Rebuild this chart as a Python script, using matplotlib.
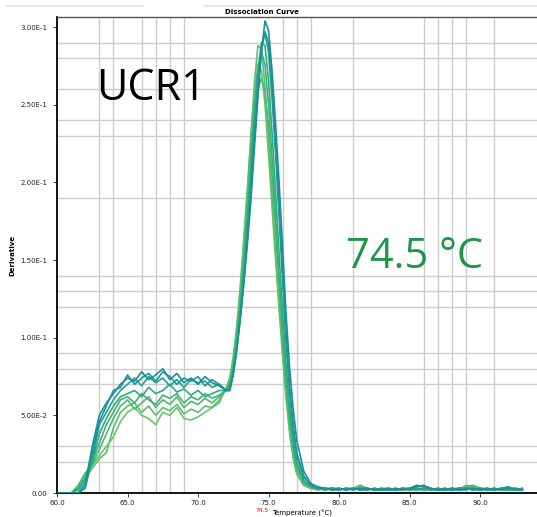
import numpy as np
import matplotlib
matplotlib.use("Agg")
import matplotlib.pyplot as plt
from matplotlib.lines import Line2D

# temperaturas de lectura (°C): 0.5 en los extremos, 0.25 cerca del pico
temp = np.concatenate([np.arange(60.0, 72.01, 0.5),
                       np.arange(72.25, 77.01, 0.25),
                       np.arange(77.5, 93.01, 0.5)])

# derivada (x 1e-3) de cada pocillo, de verde a turquesa
g1 = [0, 0, 0, 5, 13, 18, 24, 30, 36, 46, 52, 55, 50, 48, 44, 52, 50, 55, 48, 47, 49, 52, 55, 58, 68,
      74, 88, 108, 134, 164, 196, 228, 258, 276, 272, 250, 218, 184, 150, 118, 88, 60, 38, 22, 12,
      5, 3, 2, 3, 2, 3, 2, 3, 3, 2, 3, 2, 2, 3, 2, 3, 2, 2, 3, 2, 2, 3, 2, 5, 4, 2, 3, 2, 3, 2, 2, 2]
g2 = [0, 0, 0, 3, 9, 16, 22, 26, 42, 52, 56, 58, 52, 56, 50, 55, 53, 57, 51, 54, 52, 56, 55, 60, 67,
      72, 86, 105, 130, 160, 194, 230, 264, 288, 286, 262, 228, 192, 156, 122, 92, 64, 41, 24, 14,
      5, 3, 3, 2, 3, 2, 3, 2, 4, 3, 2, 3, 3, 2, 3, 2, 2, 3, 2, 2, 3, 2, 3, 3, 4, 3, 3, 2, 2, 3, 2, 3]
g3 = [0, 0, 0, 4, 12, 18, 28, 38, 48, 56, 60, 54, 58, 62, 55, 60, 57, 62, 55, 59, 57, 61, 58, 62, 66,
      70, 82, 100, 124, 152, 184, 216, 242, 260, 267, 258, 236, 204, 170, 134, 100, 70, 46, 28, 16,
      6, 4, 2, 3, 2, 3, 2, 3, 5, 3, 2, 3, 2, 3, 2, 2, 3, 2, 2, 3, 2, 3, 3, 4, 5, 3, 2, 3, 2, 3, 2, 2]
m1 = [0, 0, 0, 3, 10, 20, 32, 44, 52, 60, 62, 58, 64, 60, 57, 63, 61, 64, 58, 62, 60, 64, 61, 63, 66,
      70, 80, 97, 120, 148, 180, 214, 248, 272, 284, 276, 250, 216, 178, 140, 104, 72, 48, 30, 18,
      7, 4, 3, 2, 3, 2, 3, 3, 2, 3, 2, 2, 3, 2, 3, 2, 3, 2, 3, 2, 3, 2, 3, 3, 2, 3, 2, 2, 3, 2, 3, 2]
m2 = [0, 0, 0, 2, 8, 20, 38, 48, 56, 62, 64, 66, 62, 68, 64, 66, 70, 65, 67, 63, 66, 62, 64, 66, 66,
      68, 79, 95, 117, 143, 174, 208, 244, 272, 290, 288, 266, 232, 194, 154, 116, 82, 54, 34, 20,
      8, 4, 3, 3, 2, 2, 3, 2, 3, 2, 3, 2, 3, 2, 2, 3, 2, 3, 2, 3, 2, 3, 2, 3, 2, 2, 3, 2, 3, 2, 2, 3]
t1 = [0, 0, 0, 0, 3, 22, 44, 52, 60, 66, 70, 74, 69, 75, 71, 74, 69, 73, 68, 73, 71, 72, 68, 70, 66,
      68, 78, 94, 114, 139, 168, 200, 234, 264, 286, 296, 284, 254, 218, 178, 136, 96, 64, 40, 24,
      10, 5, 3, 2, 3, 3, 2, 3, 2, 3, 2, 3, 2, 2, 3, 2, 3, 3, 2, 3, 2, 2, 3, 3, 3, 2, 2, 3, 2, 2, 3, 2]
t2 = [0, 0, 0, 0, 4, 26, 46, 56, 66, 68, 76, 70, 74, 77, 72, 78, 75, 70, 74, 72, 75, 69, 73, 70, 66,
      66, 77, 93, 113, 136, 164, 194, 228, 260, 288, 297, 290, 262, 226, 186, 144, 102, 68, 44, 26,
      11, 5, 3, 3, 2, 3, 2, 3, 2, 2, 3, 2, 2, 3, 2, 3, 5, 4, 3, 2, 3, 2, 2, 3, 2, 3, 2, 3, 2, 3, 3, 2]
t3 = [0, 0, 0, 0, 6, 30, 50, 58, 64, 70, 74, 72, 78, 73, 76, 80, 73, 77, 71, 74, 70, 75, 71, 69, 66,
      66, 76, 92, 112, 135, 160, 188, 222, 255, 284, 304, 298, 272, 238, 200, 158, 114, 80, 54, 34,
      14, 6, 4, 3, 3, 2, 3, 2, 3, 3, 2, 2, 3, 2, 3, 3, 4, 5, 3, 2, 2, 3, 2, 2, 3, 2, 3, 2, 3, 4, 2, 2]

curvas = [g1, g2, g3, m1, m2, t1, t2, t3]
colores = ["#6ac46b", "#5dbf6e", "#4fb873", "#40b079", "#31a882", "#25a08b", "#1d9894", "#188f9c"]

# ejes y rejilla
xticks = [60, 65, 70, 75, 80, 85, 90]
xticklabels = ["60.0", "65.0", "70.0", "75.0", "80.0", "85.0", "90.0"]
yticks = [0.0, 0.05, 0.10, 0.15, 0.20, 0.25, 0.30]
yticklabels = ["0.00", "5.00E-2", "1.00E-1", "1.50E-1", "2.00E-1", "2.50E-1", "3.00E-1"]
xgrid = [63, 64, 66, 67, 68, 69, 76, 77, 78, 81, 85, 86, 87, 88, 89, 90, 91]
ygrid = [0.02, 0.03, 0.07, 0.08, 0.09, 0.10, 0.12, 0.13, 0.14, 0.19,
         0.23, 0.24, 0.25, 0.26, 0.28, 0.29, 0.30]

W, H = 537, 517
fig = plt.figure(figsize=(W / 100, H / 100), dpi=100)
ax = fig.add_axes([57 / W, 24 / H, 480 / W, 476 / H])

for c, col in zip(curvas, colores):
    ax.plot(temp, np.array(c) / 1000.0, color=col, lw=1.2, zorder=3)

ax.set_xlim(60, 94.04)
ax.set_ylim(0, 0.3065)

ax.set_xticks(xticks)
ax.set_xticklabels(xticklabels)
ax.set_yticks(yticks)
ax.set_yticklabels(yticklabels)
ax.set_xticks(xgrid, minor=True)
ax.set_yticks(ygrid, minor=True)
ax.tick_params(which="minor", length=0)
ax.tick_params(which="major", length=3, width=0.6, labelsize=5, colors="#222222")
ax.tick_params(axis="x", which="major", pad=2)
ax.tick_params(axis="y", which="major", pad=4)
ax.grid(True, which="minor", color="#cccccc", lw=1.0, zorder=0)
ax.grid(False, which="major")

for s in ["left", "bottom"]:
    ax.spines[s].set_linewidth(1.3)
    ax.spines[s].set_color("black")
ax.spines["top"].set_color("#555555")
ax.spines["top"].set_linewidth(1.0)
ax.spines["right"].set_visible(False)

# textos
fig.text(262 / W, 1 - 12 / H, "Dissociation Curve", fontsize=5, fontweight="bold",
         ha="center", va="center")
fig.text(12 / W, 1 - 255 / H, "Derivative", fontsize=5, fontweight="bold",
         rotation=90, ha="center", va="center")
fig.text(272 / W, 1 - 513 / H, "Temperature (°C)", fontsize=5, ha="left", va="center")
fig.text(262 / W, 1 - 511 / H, "74.5", fontsize=4.2, color="red", ha="center", va="center")

fig.text(96 / W, 1 - 100 / H, "UCR1", fontsize=31, family="Open Sans",
         ha="left", va="baseline", color="black")
fig.text(346 / W, 1 - 268 / H, "74.5 °C", fontsize=30, family="Open Sans",
         ha="left", va="baseline", color="#1d9648")

# barra gris de la parte superior
fig.add_artist(Line2D([7 / W, 143 / W], [1 - 6 / H, 1 - 6 / H], color="#e6e6e6", lw=1.5))
fig.add_artist(Line2D([205 / W, 1.0], [1 - 6 / H, 1 - 6 / H], color="#e6e6e6", lw=1.5))

fig.savefig("out.png", dpi=100)
